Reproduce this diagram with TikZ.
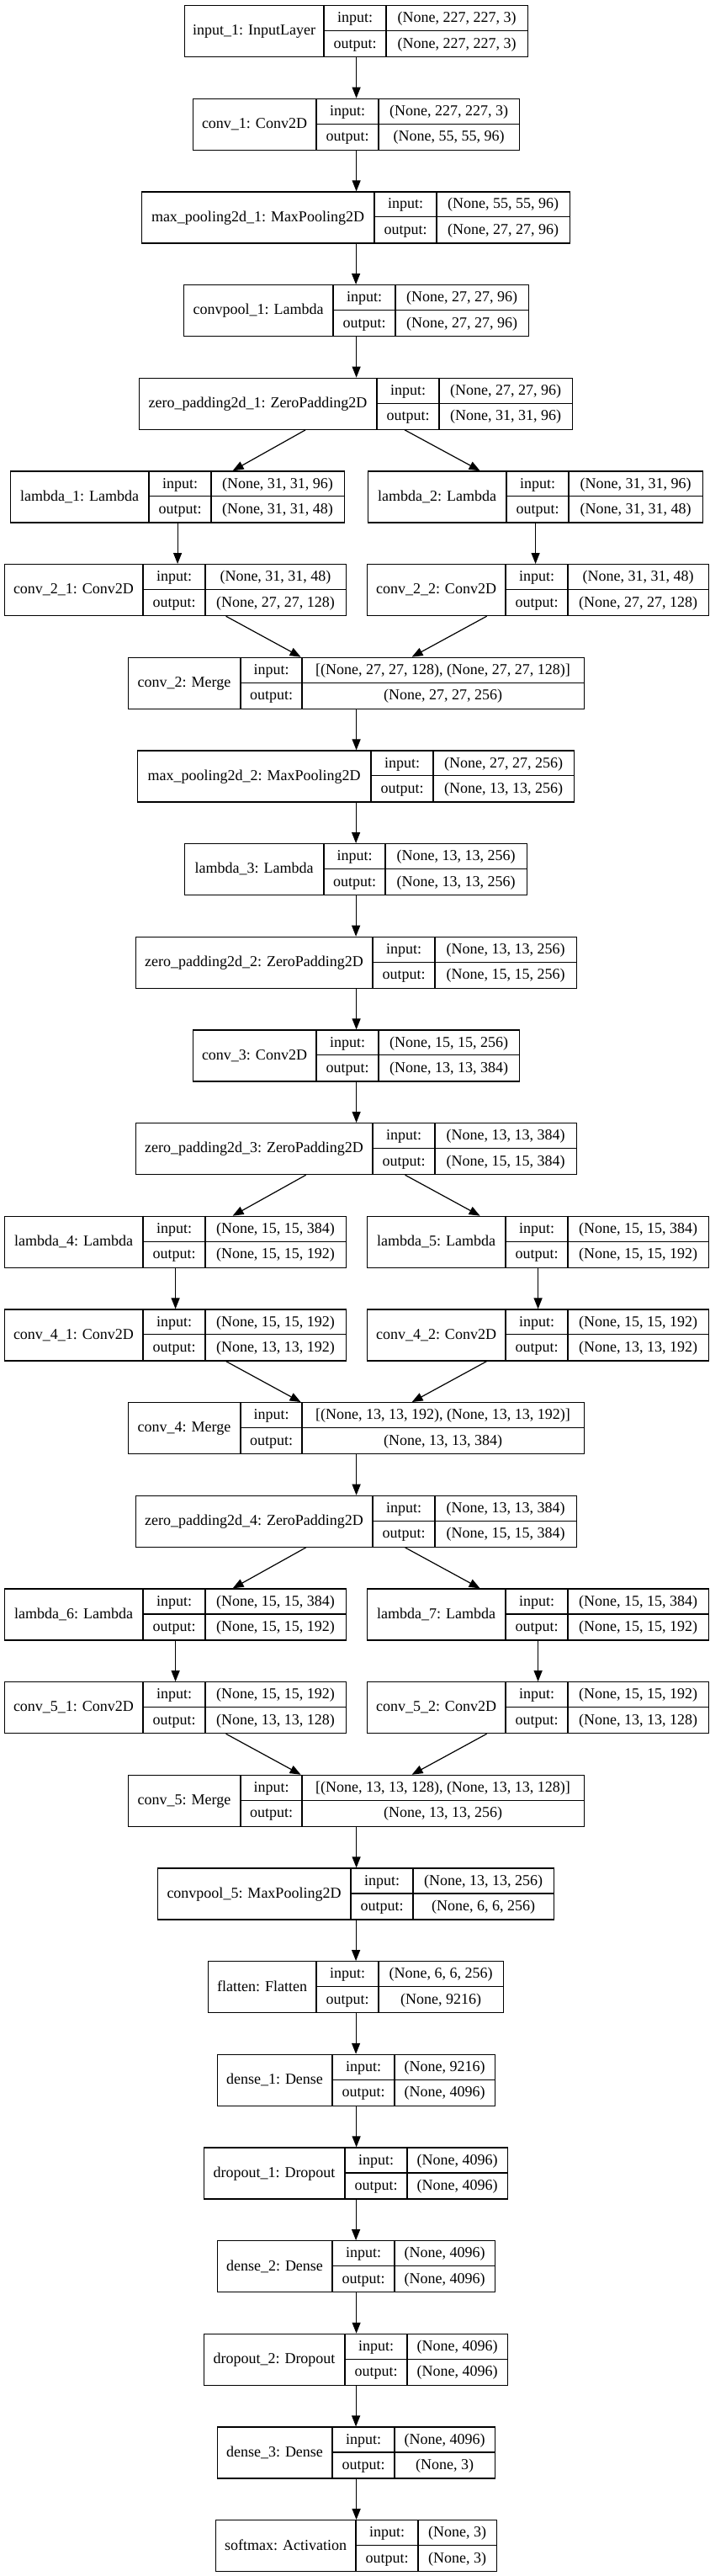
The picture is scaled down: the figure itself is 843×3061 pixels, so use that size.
\documentclass[tikz,border=0pt]{standalone}
\usepackage{fontspec}
\setmainfont{Liberation Serif}
\usetikzlibrary{arrows.meta}
\tikzset{
  x=0.5pt, y=-0.5pt,
  laybox/.style={draw, line width=0.6pt, inner sep=0pt, anchor=north west, minimum height=30.5pt},
  txt/.style={inner sep=0pt, text height=7pt, text depth=1.6pt, font=\fontsize{9}{10}\selectfont},
  arr/.style={-{Triangle[length=6.5pt,width=5pt]}, line width=0.6pt},
  divl/.style={line width=0.6pt}
}
% name, x0, x1, x2, x3, row, label, input shape, output shape
\newcommand\lay[9]{%
  \pgfmathsetmacro\yt{6+110.67*(#6-1)}%
  \node[laybox, minimum width={(#5-#2)*0.5pt}] (#1) at (#2,\yt) {};
  \draw[divl] (#3,\yt) -- (#3,{\yt+61});
  \draw[divl] (#4,\yt) -- (#4,{\yt+61});
  \draw[divl] (#3,{\yt+30.5}) -- (#5,{\yt+30.5});
  \node[txt] (#1-n) at ({(#2+#3)/2},{\yt+30.5}) {#7};
  \node[txt] (#1-a) at ({(#3+#4)/2},{\yt+15.25}) {input:};
  \node[txt] (#1-b) at ({(#3+#4)/2},{\yt+45.75}) {output:};
  \node[txt] (#1-i) at ({(#4+#5)/2},{\yt+15.25}) {#8};
  \node[txt] (#1-o) at ({(#4+#5)/2},{\yt+45.75}) {#9};
}
\begin{document}
\begin{tikzpicture}
\useasboundingbox[fill=white] (0,0) rectangle (843,3061);
\lay{in1}{219}{385}{459}{627}{1}{input\_1: InputLayer}{(None, 227, 227, 3)}{(None, 227, 227, 3)}
\lay{c1}{229}{376}{450}{617}{2}{conv\_1: Conv2D}{(None, 227, 227, 3)}{(None, 55, 55, 96)}
\lay{mp1}{168}{445}{519}{677}{3}{max\_pooling2d\_1: MaxPooling2D}{(None, 55, 55, 96)}{(None, 27, 27, 96)}
\lay{cp1}{218}{396}{470}{628}{4}{convpool\_1: Lambda}{(None, 27, 27, 96)}{(None, 27, 27, 96)}
\lay{zp1}{165}{448}{522}{680}{5}{zero\_padding2d\_1: ZeroPadding2D}{(None, 27, 27, 96)}{(None, 31, 31, 96)}
\lay{l1}{12}{177}{251}{409}{6}{lambda\_1: Lambda}{(None, 31, 31, 96)}{(None, 31, 31, 48)}
\lay{l2}{437}{602}{676}{835}{6}{lambda\_2: Lambda}{(None, 31, 31, 96)}{(None, 31, 31, 48)}
\lay{c21}{5}{170}{244}{411}{7}{conv\_2\_1: Conv2D}{(None, 31, 31, 48)}{(None, 27, 27, 128)}
\lay{c22}{436}{601}{675}{842}{7}{conv\_2\_2: Conv2D}{(None, 31, 31, 48)}{(None, 27, 27, 128)}
\lay{c2}{152}{286}{359}{694}{8}{conv\_2: Merge}{[(None, 27, 27, 128), (None, 27, 27, 128)]}{(None, 27, 27, 256)}
\lay{mp2}{163}{441}{515}{682}{9}{max\_pooling2d\_2: MaxPooling2D}{(None, 27, 27, 256)}{(None, 13, 13, 256)}
\lay{l3}{219}{385}{458}{626}{10}{lambda\_3: Lambda}{(None, 13, 13, 256)}{(None, 13, 13, 256)}
\lay{zp2}{161}{443}{517}{685}{11}{zero\_padding2d\_2: ZeroPadding2D}{(None, 13, 13, 256)}{(None, 15, 15, 256)}
\lay{c3}{229}{376}{450}{617}{12}{conv\_3: Conv2D}{(None, 15, 15, 256)}{(None, 13, 13, 384)}
\lay{zp3}{161}{443}{517}{685}{13}{zero\_padding2d\_3: ZeroPadding2D}{(None, 13, 13, 384)}{(None, 15, 15, 384)}
\lay{l4}{5}{170}{244}{411}{14}{lambda\_4: Lambda}{(None, 15, 15, 384)}{(None, 15, 15, 192)}
\lay{l5}{436}{601}{675}{842}{14}{lambda\_5: Lambda}{(None, 15, 15, 384)}{(None, 15, 15, 192)}
\lay{c41}{5}{170}{244}{411}{15}{conv\_4\_1: Conv2D}{(None, 15, 15, 192)}{(None, 13, 13, 192)}
\lay{c42}{436}{601}{675}{842}{15}{conv\_4\_2: Conv2D}{(None, 15, 15, 192)}{(None, 13, 13, 192)}
\lay{c4}{152}{286}{359}{694}{16}{conv\_4: Merge}{[(None, 13, 13, 192), (None, 13, 13, 192)]}{(None, 13, 13, 384)}
\lay{zp4}{161}{443}{517}{685}{17}{zero\_padding2d\_4: ZeroPadding2D}{(None, 13, 13, 384)}{(None, 15, 15, 384)}
\lay{l6}{5}{170}{244}{411}{18}{lambda\_6: Lambda}{(None, 15, 15, 384)}{(None, 15, 15, 192)}
\lay{l7}{436}{601}{675}{842}{18}{lambda\_7: Lambda}{(None, 15, 15, 384)}{(None, 15, 15, 192)}
\lay{c51}{5}{170}{244}{411}{19}{conv\_5\_1: Conv2D}{(None, 15, 15, 192)}{(None, 13, 13, 128)}
\lay{c52}{436}{601}{675}{842}{19}{conv\_5\_2: Conv2D}{(None, 15, 15, 192)}{(None, 13, 13, 128)}
\lay{c5}{152}{286}{359}{694}{20}{conv\_5: Merge}{[(None, 13, 13, 128), (None, 13, 13, 128)]}{(None, 13, 13, 256)}
\lay{cp5}{187}{417}{491}{658}{21}{convpool\_5: MaxPooling2D}{(None, 13, 13, 256)}{(None, 6, 6, 256)}
\lay{fl}{247}{376}{450}{598}{22}{flatten: Flatten}{(None, 6, 6, 256)}{(None, 9216)}
\lay{d1}{258}{395}{469}{588}{23}{dense\_1: Dense}{(None, 9216)}{(None, 4096)}
\lay{do1}{242}{410}{484}{603}{24}{dropout\_1: Dropout}{(None, 4096)}{(None, 4096)}
\lay{d2}{258}{395}{469}{588}{25}{dense\_2: Dense}{(None, 4096)}{(None, 4096)}
\lay{do2}{242}{410}{484}{603}{26}{dropout\_2: Dropout}{(None, 4096)}{(None, 4096)}
\lay{d3}{258}{395}{469}{588}{27}{dense\_3: Dense}{(None, 4096)}{(None, 3)}
\lay{sm}{256}{423}{497}{590}{28}{softmax: Activation}{(None, 3)}{(None, 3)}
% straight connectors
\foreach \a/\b in {in1/c1, c1/mp1, mp1/cp1, cp1/zp1, c2/mp2, mp2/l3, l3/zp2, zp2/c3, c3/zp3, c4/zp4, c5/cp5, cp5/fl, fl/d1, d1/do1, do1/d2, d2/do2, do2/d3, d3/sm, l1/c21, l2/c22, l4/c41, l5/c42, l6/c51, l7/c52}
  \draw[arr] (\a.south) -- (\a.south |- \b.north);
% splits
\draw[arr] ([xshift=-30pt]zp1.south) -- ([xshift=32.75pt]l1.north);
\draw[arr] ([xshift=29pt]zp1.south) -- ([xshift=-33pt]l2.north);
\draw[arr] ([xshift=-30pt]zp3.south) -- ([xshift=34pt]l4.north);
\draw[arr] ([xshift=29pt]zp3.south) -- ([xshift=-34.5pt]l5.north);
\draw[arr] ([xshift=-30pt]zp4.south) -- ([xshift=34pt]l6.north);
\draw[arr] ([xshift=29pt]zp4.south) -- ([xshift=-34.5pt]l7.north);
% merges
\draw[arr] ([xshift=30pt]c21.south) -- ([xshift=-33pt]c2.north);
\draw[arr] ([xshift=-30.5pt]c22.south) -- ([xshift=33pt]c2.north);
\draw[arr] ([xshift=30pt]c41.south) -- ([xshift=-33pt]c4.north);
\draw[arr] ([xshift=-30.5pt]c42.south) -- ([xshift=33pt]c4.north);
\draw[arr] ([xshift=30pt]c51.south) -- ([xshift=-33pt]c5.north);
\draw[arr] ([xshift=-30.5pt]c52.south) -- ([xshift=33pt]c5.north);
\end{tikzpicture}
\end{document}
